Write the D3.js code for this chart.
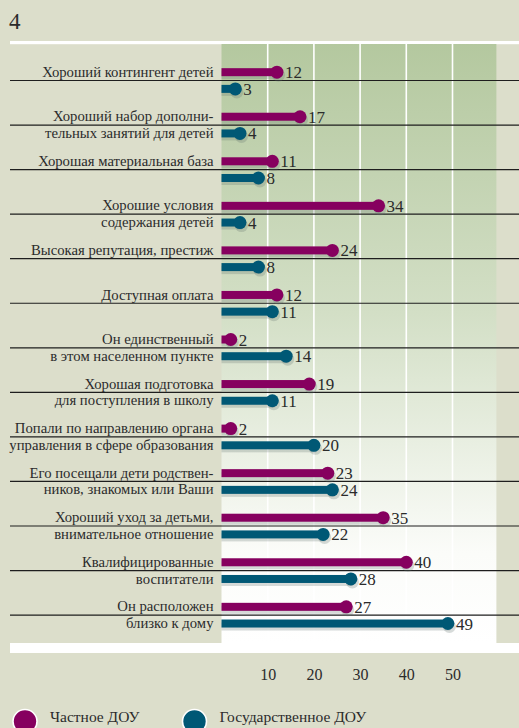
<!DOCTYPE html>
<html>
<head>
<meta charset="utf-8">
<script src="https://cdn.jsdelivr.net/npm/d3@7"></script>
<style>
  html, body { margin: 0; padding: 0; background: #dcdecb; }
  svg { display: block; }
</style>
</head>
<body>
<svg id="chart" width="519" height="728"></svg>
<script>
// Reasons for choosing a kindergarten, % of respondents
const categories = [
  ["Хороший контингент детей"],
  ["Хороший набор дополни-", "тельных занятий для детей"],
  ["Хорошая материальная база"],
  ["Хорошие условия", "содержания детей"],
  ["Высокая репутация, престиж"],
  ["Доступная оплата"],
  ["Он единственный", "в этом населенном пункте"],
  ["Хорошая подготовка", "для поступления в школу"],
  ["Попали по направлению органа", "управления в сфере образования"],
  ["Его посещали дети родствен-", "ников, знакомых или Ваши"],
  ["Хороший уход за детьми,", "внимательное отношение"],
  ["Квалифицированные", "воспитатели"],
  ["Он расположен", "близко к дому"]
];
const privateValues = [12, 17, 11, 34, 24, 12, 2, 19, 2, 23, 35, 40, 27];
const stateValues   = [3, 4, 8, 4, 8, 11, 14, 11, 20, 24, 22, 28, 49];
const tickValues = [10, 20, 30, 40, 50];
const seriesNames = ["Частное ДОУ", "Государственное ДОУ"];
const seriesColors = ["#86005f", "#005875"];

const SERIF = "'Liberation Serif', 'DejaVu Serif', 'Times New Roman', serif";
const svg = d3.select("#chart")
  .attr("font-family", SERIF)
  .style("font-family", SERIF);
const W = 519;

const x = d3.scaleLinear().domain([0, 60]).range([221.5, 221.5 + 60 * 4.62]);
const y = d3.scaleBand().domain(d3.range(categories.length)).range([58.2, 637.4]).padding(0);
const rowC = i => y(i) + y.bandwidth() / 2;
const off = [-8.3, 8.4];

const panelTop = 44, panelBottom = 643, panelLeft = x(0), panelRight = x(59.5);

// panel gradient
const defs = svg.append("defs");
const grad = defs.append("linearGradient").attr("id", "panelGrad")
  .attr("x1", 0).attr("y1", 0).attr("x2", 0).attr("y2", 1);
grad.append("stop").attr("offset", "0%").attr("stop-color", "#b4c89f");
grad.append("stop").attr("offset", "45%").attr("stop-color", "#d3dfc6");
grad.append("stop").attr("offset", "85%").attr("stop-color", "#fbfcf9");
grad.append("stop").attr("offset", "100%").attr("stop-color", "#ffffff");

const txt = (sel) => sel.attr("font-family", SERIF).style("font-family", SERIF).attr("fill", "#2b2b2b");

// title
svg.append("text").attr("x", 9).attr("y", 29).style("font-size", "23px").call(txt).text("4");

// top white rule
svg.append("rect").attr("x", 10).attr("y", 41).attr("width", W - 10).attr("height", 3.2).attr("fill", "#ffffff");

// panel
svg.append("rect")
  .attr("x", panelLeft).attr("y", panelTop)
  .attr("width", panelRight - panelLeft).attr("height", panelBottom - panelTop)
  .attr("fill", "url(#panelGrad)");

// bottom white band
svg.append("rect").attr("x", 10).attr("y", panelBottom).attr("width", W - 10).attr("height", 10).attr("fill", "#ffffff");

// vertical grid lines
svg.append("g").selectAll("line").data(tickValues).join("line")
  .attr("x1", d => x(d)).attr("x2", d => x(d))
  .attr("y1", panelTop).attr("y2", panelBottom)
  .attr("stroke", "#ffffff").attr("stroke-width", 1.6);

// row separators
svg.append("g").selectAll("line").data(categories).join("line")
  .attr("x1", 10).attr("x2", W)
  .attr("y1", (d, i) => rowC(i)).attr("y2", (d, i) => rowC(i))
  .attr("stroke", "#1e1e1e").attr("stroke-width", 1.2);

// category labels
const labels = svg.append("g").attr("text-anchor", "end");
categories.forEach((lines, i) => {
  lines.forEach((t, j) => {
    labels.append("text")
      .attr("x", 213.5)
      .attr("y", rowC(i) + off[j] + 4.6)
      .style("font-size", "14.7px")
      .call(txt)
      .text(t);
  });
});

// bars
const series = [privateValues, stateValues];
series.forEach((vals, s) => {
  const g = svg.append("g");
  const data = vals.map((v, i) => ({ v, i }));
  // shadow
  g.selectAll("rect.sh").data(data).join("rect").attr("class", "sh")
    .attr("x", x(0)).attr("y", d => rowC(d.i) + off[s] - 4 + 3)
    .attr("width", d => x(d.v) - x(0) + 2).attr("height", 8)
    .attr("fill", "#5f6f6a").attr("opacity", 0.25);
  g.selectAll("circle.sh").data(data).join("circle").attr("class", "sh")
    .attr("cx", d => x(d.v) + 1.5).attr("cy", d => rowC(d.i) + off[s] + 3)
    .attr("r", 6.5).attr("fill", "#5f6f6a").attr("opacity", 0.25);
  // bar + dot
  g.selectAll("rect.bar").data(data).join("rect").attr("class", "bar")
    .attr("x", x(0)).attr("y", d => rowC(d.i) + off[s] - 4)
    .attr("width", d => x(d.v) - x(0)).attr("height", 8)
    .attr("fill", seriesColors[s]);
  g.selectAll("circle.dot").data(data).join("circle").attr("class", "dot")
    .attr("cx", d => x(d.v)).attr("cy", d => rowC(d.i) + off[s])
    .attr("r", 6.5).attr("fill", seriesColors[s]);
  g.selectAll("text").data(data).join("text")
    .attr("x", d => x(d.v) + 8).attr("y", d => rowC(d.i) + off[s] + 6)
    .style("font-size", "17px").call(txt)
    .text(d => d.v);
});

// axis labels
const axis = d3.axisBottom(x).tickValues(tickValues).tickSize(0).tickPadding(0);
const ag = svg.append("g").attr("transform", "translate(0,669)").call(axis);
ag.attr("font-family", SERIF).attr("font-size", null);
ag.select(".domain").remove();
ag.selectAll("text").style("font-size", "16px").call(txt);

// legend
const legendX = [25, 194.5];
seriesNames.forEach((name, s) => {
  svg.append("circle").attr("cx", legendX[s]).attr("cy", 721.5).attr("r", 12)
    .attr("fill", seriesColors[s]).attr("stroke", "#ffffff").attr("stroke-width", 1.6);
  svg.append("text").attr("x", legendX[s] + 25).attr("y", 722)
    .style("font-size", "15.5px").call(txt).text(name);
});
</script>
</body>
</html>
